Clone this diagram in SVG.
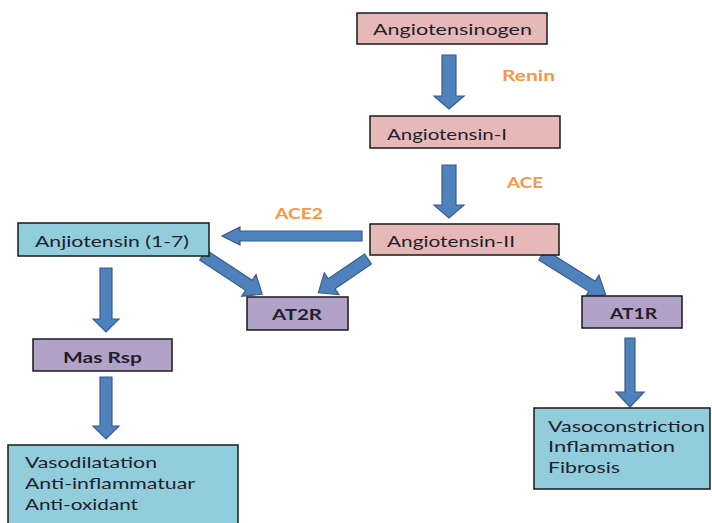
<svg xmlns="http://www.w3.org/2000/svg" width="712" height="523" viewBox="0 0 712 523">
<style>
.box{stroke:#1a1a1a;stroke-width:1.5}
.pink{fill:#e6b8b7}
.blue{fill:#92cddc}
.purple{fill:#b3a2c7}
.t{font-family:Lato,"Open Sans","Liberation Sans",sans-serif;font-size:15px;fill:#1f1f2e}
.b{font-weight:bold}
.enz{font-family:Lato,"Open Sans","Liberation Sans",sans-serif;font-size:15px;font-weight:bold;fill:#f79646}
.arr{fill:#4f81bd;stroke:#385d8a;stroke-width:1.2}
</style>
<rect width="712" height="523" fill="#ffffff"/>
<g id="connectors">
<polygon class="arr" points="0,-7 41,-7 41,-15 54,0 41,15 41,7 0,7" transform="translate(449,55) rotate(90)"/>
<polygon class="arr" points="0,-7 40,-7 40,-15 53,0 40,15 40,7 0,7" transform="translate(449,165) rotate(90)"/>
<polygon class="arr" points="0,-5 122,-5 122,-9 140,0 122,9 122,5 0,5" transform="translate(362,236) rotate(180)"/>
<polygon class="arr" points="0,-6 51,-6 51,-13 64,0 51,13 51,6 0,6" transform="translate(106,268) rotate(90)"/>
<polygon class="arr" points="0,-6 49,-6 49,-13 62,0 49,13 49,6 0,6" transform="translate(106,377) rotate(90)"/>
<polygon class="arr" points="0,-5 54,-5 54,-14 69,0 54,14 54,5 0,5" transform="translate(630,338) rotate(90)"/>
<polygon class="arr" points="0,-6 55,-6 55,-13 71,0 55,13 55,6 0,6" transform="translate(203,255) rotate(33.5)"/>
<polygon class="arr" points="0,-6 44,-6 44,-13 60,0 44,13 44,6 0,6" transform="translate(368,259) rotate(145.8)"/>
<polygon class="arr" points="0,-6 59,-6 59,-13 75,0 59,13 59,6 0,6" transform="translate(542,255) rotate(32)"/>
<text class="enz" x="502" y="81" textLength="53" lengthAdjust="spacingAndGlyphs">Renin</text>
<text class="enz" x="507" y="188" textLength="36" lengthAdjust="spacingAndGlyphs">ACE</text>
<text class="enz" x="275" y="219" textLength="48" lengthAdjust="spacingAndGlyphs">ACE2</text>
</g>
<g id="angiotensinogen">
<rect class="box pink" x="357" y="13" width="190" height="31"/>
<text class="t" x="373" y="35" textLength="159" lengthAdjust="spacingAndGlyphs">Angiotensinogen</text>
</g>
<g id="angiotensin1">
<rect class="box pink" x="370" y="116" width="190" height="32"/>
<text class="t" x="387" y="140" textLength="120" lengthAdjust="spacingAndGlyphs">Angiotensin-I</text>
</g>
<g id="angiotensin2">
<rect class="box pink" x="370" y="224" width="189" height="31"/>
<text class="t" x="387" y="247" textLength="128" lengthAdjust="spacingAndGlyphs">Angiotensin-II</text>
</g>
<g id="anjiotensin17">
<rect class="box blue" x="18" y="223" width="191" height="33"/>
<text class="t" x="35" y="247" textLength="154" lengthAdjust="spacingAndGlyphs">Anjiotensin (1-7)</text>
</g>
<g id="at2r">
<rect class="box purple" x="247" y="297" width="101" height="33"/>
<text class="t b" x="272" y="320" textLength="50" lengthAdjust="spacingAndGlyphs">AT2R</text>
</g>
<g id="at1r">
<rect class="box purple" x="582" y="296" width="100" height="32"/>
<text class="t b" x="610" y="319" textLength="47" lengthAdjust="spacingAndGlyphs">AT1R</text>
</g>
<g id="masrsp">
<rect class="box purple" x="33" y="339" width="139" height="32"/>
<text class="t b" x="63" y="363" textLength="79" lengthAdjust="spacingAndGlyphs">Mas Rsp</text>
</g>
<g id="effects-left">
<rect class="box blue" x="8" y="445" width="230" height="85"/>
<text class="t" x="25" y="468" textLength="132" lengthAdjust="spacingAndGlyphs">Vasodilatation</text>
<text class="t" x="25" y="489" textLength="170" lengthAdjust="spacingAndGlyphs">Anti-inflammatuar</text>
<text class="t" x="25" y="510" textLength="113" lengthAdjust="spacingAndGlyphs">Anti-oxidant</text>
</g>
<g id="effects-right">
<rect class="box blue" x="534" y="408" width="176" height="81"/>
<text class="t" x="548" y="432" textLength="157" lengthAdjust="spacingAndGlyphs">Vasoconstriction</text>
<text class="t" x="548" y="452" textLength="127" lengthAdjust="spacingAndGlyphs">Inflammation</text>
<text class="t" x="548" y="473" textLength="72" lengthAdjust="spacingAndGlyphs">Fibrosis</text>
</g>
</svg>
